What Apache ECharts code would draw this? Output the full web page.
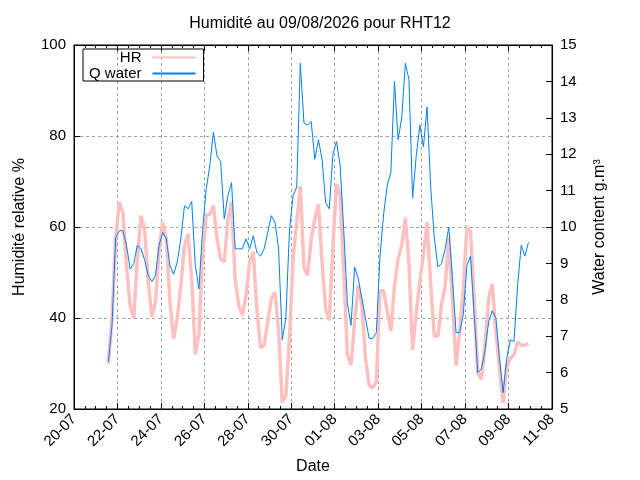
<!DOCTYPE html>
<html>
<head>
<meta charset="utf-8">
<title>Humidité RHT12</title>
<script src="https://cdn.jsdelivr.net/npm/echarts@6/dist/echarts.min.js"></script>
<style>
   html, body { margin: 0; padding: 0; background: #fff; }
   #chart { width: 640px; height: 480px; }
</style>
</head>
<body>
<div id="chart"></div>
<script>
// relevés toutes les 4 heures, "MM-JJ HH"
var times = [
   '07-21 14','07-21 18','07-21 22',
   '07-22 02','07-22 06','07-22 10','07-22 14','07-22 18','07-22 22',
   '07-23 02','07-23 06','07-23 10','07-23 14','07-23 18','07-23 22',
   '07-24 02','07-24 06','07-24 10','07-24 14','07-24 18','07-24 22',
   '07-25 02','07-25 06','07-25 10','07-25 14','07-25 18','07-25 22',
   '07-26 02','07-26 06','07-26 10','07-26 14','07-26 18','07-26 22',
   '07-27 02','07-27 06','07-27 10','07-27 14','07-27 18','07-27 22',
   '07-28 02','07-28 06','07-28 10','07-28 14','07-28 18','07-28 22',
   '07-29 02','07-29 06','07-29 10','07-29 14','07-29 18','07-29 22',
   '07-30 02','07-30 06','07-30 10','07-30 14','07-30 18','07-30 22',
   '07-31 02','07-31 06','07-31 10','07-31 14','07-31 18','07-31 22',
   '08-01 02','08-01 06','08-01 10','08-01 14','08-01 18','08-01 22',
   '08-02 02','08-02 06','08-02 10','08-02 14','08-02 18','08-02 22',
   '08-03 02','08-03 06','08-03 10','08-03 14','08-03 18','08-03 22',
   '08-04 02','08-04 06','08-04 10','08-04 14','08-04 18','08-04 22',
   '08-05 02','08-05 06','08-05 10','08-05 14','08-05 18','08-05 22',
   '08-06 02','08-06 06','08-06 10','08-06 14','08-06 18','08-06 22',
   '08-07 02','08-07 06','08-07 10','08-07 14','08-07 18','08-07 22',
   '08-08 02','08-08 06','08-08 10','08-08 14','08-08 18','08-08 22',
   '08-09 02','08-09 06','08-09 10','08-09 14','08-09 18','08-09 22'
];

// humidité relative (%)
var hr = [
   30, 40, 57.4,
   65.4, 63.2, 51.5, 42.8, 40, 53,
   62.5, 59.6, 47.9, 40.3, 43.5, 55.2,
   61, 57.4, 43.5, 35.5, 39.9, 47.2,
   55.9, 58.5, 48.6, 32, 36.5, 53.7,
   62.5, 62.8, 64.7, 57.4, 53, 52.3,
   61.7, 65.5, 48.6, 42.8, 40.6, 45,
   52.3, 54.5, 42, 33.5, 34, 39.2,
   44.3, 45.7, 37, 21.5, 23, 35.5,
   53, 61, 69, 51, 49.4, 57.4,
   61.7, 65, 52.3, 42, 39.5, 55.9,
   69.5, 67, 50, 31.9, 29.7, 39.2,
   47.2, 42.8, 31.1, 25.3, 24.6, 26,
   46, 46, 41.5, 37.2, 47, 53,
   56, 62, 52, 33, 41, 48,
   54, 61, 47.5, 36, 36, 43,
   47, 57.6, 44, 29.5, 37, 46.4,
   60, 59, 44.3, 28, 26.5, 34,
   44.3, 47.5, 37, 29, 21.3, 29.7,
   31.1, 31.9, 34.8, 34, 34, 34.4
];

// teneur en eau (g.m3)
var qWater = [
   6.3, 7.3, 9.7,
   9.9, 9.9, 9.5, 8.85, 9.0, 9.5,
   9.4, 9.1, 8.67, 8.5, 8.67, 9.5,
   9.85, 9.67, 8.94, 8.7, 9.03, 9.67,
   10.58, 10.5, 10.7, 8.94, 8.3, 9.9,
   11.04, 11.68, 12.6, 11.95, 11.8, 10.22,
   10.86, 11.22, 9.4, 9.4, 9.4, 9.67,
   9.4, 9.76, 9.3, 9.2, 9.4, 9.85,
   10.31, 10.13, 9.4, 6.9, 7.5, 9.9,
   10.86, 11.1, 14.5, 12.86, 12.8, 12.9,
   11.86, 12.4, 11.86, 10.67, 10.5, 12.0,
   12.35, 11.68, 9.9, 7.9, 7.3, 8.9,
   8.58, 8.03, 7.49, 6.94, 6.94, 7.1,
   9.2, 10.35, 11.15, 11.5, 14.0, 12.4,
   13.0, 14.5, 14.05, 10.8, 11.95, 12.8,
   12.2, 13.3, 11.1, 9.7, 8.9, 9.0,
   9.4, 10.0, 8.6, 7.1, 7.1, 7.6,
   8.94, 9.2, 7.6, 6.0, 6.1, 6.6,
   7.4, 7.7, 7.5, 6.4, 5.45, 6.4,
   6.9, 6.85, 8.4, 9.5, 9.2, 9.58
];

var xStart = '07-20 00';
var xEnd = '08-11 00';
var DAY = 86400000;

function toMs(s) {
   var p = s.split(/[- ]/);
   return Date.UTC(2026, +p[0] - 1, +p[1], +p[2]);
}
function pad(n) {
   return n < 10 ? '0' + n : '' + n;
}
function dayLabel(v) {
   var d = new Date(v);
   return pad(d.getUTCDate()) + '-' + pad(d.getUTCMonth() + 1);
}

var font = 'Liberation Sans';
var hrData = [], waterData = [];
times.forEach(function (t, i) {
   hrData.push([toMs(t), hr[i]]);
   waterData.push([toMs(t), qWater[i]]);
});

var chart = echarts.init(document.getElementById('chart'));
var gridLine = {show: true, lineStyle: {color: '#a0a0a0', type: [3, 3], width: 1}};
var tick = {show: true, inside: true, length: 6, lineStyle: {color: '#000'}};
var minor = {show: true, splitNumber: 4, length: 3, lineStyle: {color: '#000'}};
var label = {fontFamily: font, fontSize: 15, color: '#000', margin: 8};
var nameStyle = {fontFamily: font, fontSize: 16, color: '#000'};

var option = {
   animation: false,
   backgroundColor: '#fff',
   textStyle: {fontFamily: font},
   title: {
      text: 'Humidité au 09/08/2026 pour RHT12',
      left: 'center',
      top: 11,
      textStyle: {fontFamily: font, fontSize: 16, fontWeight: 'normal', color: '#000'}
   },
   legend: {
      left: 83,
      top: 49,
      orient: 'vertical',
      align: 'right',
      borderColor: '#000',
      borderWidth: 1,
      borderRadius: 0,
      padding: [1, 7, 0, 6],
      itemGap: 1,
      itemWidth: 43,
      itemHeight: 14,
      itemStyle: {opacity: 0},
      textStyle: {fontFamily: font, fontSize: 15, color: '#000', padding: [0, 6, 0, 0]},
      data: ['HR', 'Q water']
   },
   grid: {
      left: 74, right: 88, top: 45, bottom: 69,
      show: true, borderColor: '#000', borderWidth: 1
   },
   xAxis: [{
      type: 'value',
      position: 'bottom',
      min: toMs(xStart),
      max: toMs(xEnd),
      interval: 2 * DAY,
      name: 'Date',
      nameLocation: 'middle',
      nameGap: 50,
      nameTextStyle: nameStyle,
      axisLine: {lineStyle: {color: '#000'}},
      axisTick: tick,
      minorTick: minor,
      axisLabel: {rotate: 45, fontFamily: font, fontSize: 15, color: '#000', margin: 8, formatter: dayLabel},
      splitLine: gridLine
   }, {
      type: 'value',
      position: 'top',
      min: toMs(xStart),
      max: toMs(xEnd),
      interval: 2 * DAY,
      axisLine: {lineStyle: {color: '#000'}},
      axisTick: tick,
      minorTick: minor,
      axisLabel: {show: false},
      splitLine: {show: false}
   }],
   yAxis: [{
      type: 'value',
      position: 'left',
      min: 20,
      max: 100,
      interval: 20,
      name: 'Humidité relative %',
      nameLocation: 'middle',
      nameGap: 46,
      nameRotate: 90,
      nameTextStyle: nameStyle,
      axisLine: {show: true, lineStyle: {color: '#000'}},
      axisTick: tick,
      axisLabel: label,
      splitLine: gridLine
   }, {
      type: 'value',
      position: 'right',
      min: 5,
      max: 15,
      interval: 1,
      name: 'Water content g.m³',
      nameLocation: 'middle',
      nameGap: 40,
      nameRotate: 90,
      nameTextStyle: nameStyle,
      axisLine: {show: true, lineStyle: {color: '#000'}},
      axisTick: tick,
      axisLabel: label,
      splitLine: {show: false}
   }],
   series: [{
      name: 'HR',
      type: 'line',
      xAxisIndex: 0,
      yAxisIndex: 0,
      symbol: 'none',
      lineStyle: {color: '#ffc0c0', width: 3.5},
      itemStyle: {color: '#ffc0c0'},
      data: hrData
   }, {
      name: 'Q water',
      type: 'line',
      xAxisIndex: 0,
      yAxisIndex: 1,
      symbol: 'none',
      lineStyle: {color: '#0080ff', width: 1},
      itemStyle: {color: '#0080ff'},
      data: waterData
   }]
};
chart.setOption(option);
</script>
</body>
</html>
